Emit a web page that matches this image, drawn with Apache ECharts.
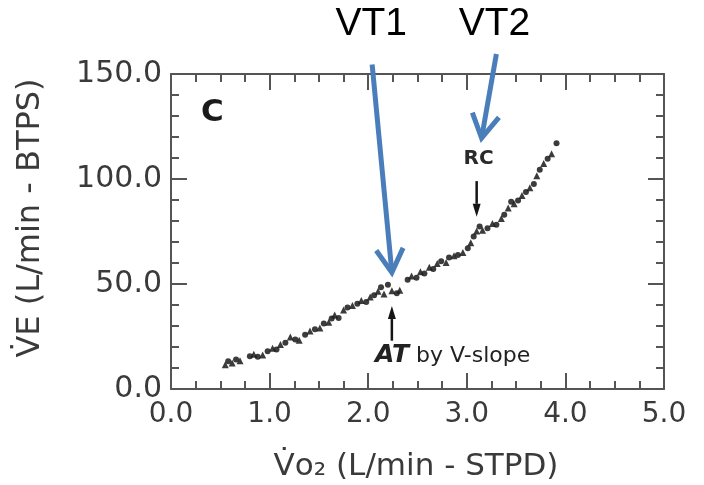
<!DOCTYPE html>
<html>
<head>
<meta charset="utf-8">
<script src="https://cdn.jsdelivr.net/npm/echarts@6/dist/echarts.min.js"></script>
<style>
html,body{margin:0;padding:0;background:#fff;}
#c{width:704px;height:485px;}
</style>
</head>
<body>
<div id="c"></div>
<script>
// ---- data ----
const vo2 = [0.55,0.58,0.62,0.66,0.70,0.80,0.84,0.88,0.93,0.98,1.03,1.07,1.11,1.16,1.21,1.26,1.30,1.36,1.41,1.46,
  1.51,1.55,1.60,1.63,1.66,1.70,1.75,1.79,1.84,1.89,1.93,1.98,2.02,2.06,2.10,2.13,2.16,2.20,2.24,2.29,
  2.32,2.40,2.44,2.49,2.53,2.57,2.62,2.66,2.70,2.74,2.79,2.82,2.87,2.91,2.96,3.01,3.04,3.07,3.10,3.13,
  3.16,3.21,3.26,3.30,3.35,3.38,3.42,3.45,3.48,3.52,3.56,3.60,3.64,3.68,3.71,3.74,3.78,3.82,3.86,3.91];
const ve = [11.6,13.2,12.4,14.0,13.4,15.6,16.6,15.4,16.2,18.0,19.4,18.8,21.2,22.0,24.8,23.6,23.2,25.8,27.6,28.4,
  29.0,31.2,31.8,33.6,35.2,33.8,37.6,38.8,39.8,40.6,42.2,41.4,43.8,44.6,46.6,48.4,45.2,49.6,46.8,45.6,
  47.0,52.0,53.8,53.0,55.8,55.0,58.0,57.2,59.8,60.8,60.2,62.6,63.4,63.8,65.0,67.0,69.6,72.6,75.2,77.4,
  75.6,76.6,78.8,78.2,81.2,83.0,86.2,89.2,88.2,89.8,92.2,93.8,95.8,97.6,101.6,104.4,107.4,109.6,112.0,117.0];
const xTicks = [0, 1, 2, 3, 4, 5];
const yTicks = [0, 50, 100, 150];
const xTitle = 'V\u0307o\u2082 (L/min - STPD)';
const yTitle = 'V\u0307E (L/min - BTPS)';
// annotation anchors in data units
const vt1 = {label:'VT1', text:[2.03,173.5], from:[2.04,154.5], to:[2.24,55.5]};
const vt2 = {label:'VT2', text:[3.28,173.5], from:[3.30,159.5], to:[3.15,119.5]};
const rc = {label:'RC', text:[3.12,109.5], from:[3.10,99], to:[3.10,82]};
const at = {text:[2.07,15.8], from:[2.24,23], to:[2.24,39.5]};
const panel = {label:'C', at:[0.42,131.5]};

const FONT = 'DejaVu Sans';
const AX = '#555';
const TXT = '#3a3a3a';

const tri = [], dot = [];
vo2.forEach((x, i) => (i % 2 === 0 ? tri : dot).push([x, ve[i]]));

function axisCommon(pos, showLabel, isX) {
  return {
    type: 'value', position: pos,
    min: isX ? xTicks[0] : yTicks[0],
    max: isX ? xTicks[xTicks.length - 1] : yTicks[yTicks.length - 1],
    interval: isX ? 1 : 50,
    axisLine: {show: true, onZero: false, lineStyle: {color: AX, width: 2}},
    axisTick: {show: true, inside: true, length: 16, lineStyle: {color: AX, width: 2}},
    minorTick: {show: true, splitNumber: isX ? 4 : 5, length: 8, lineStyle: {color: AX, width: 2}},
    splitLine: {show: false},
    axisLabel: {
      show: showLabel, formatter: v => v.toFixed(1), color: TXT,
      fontFamily: FONT, fontSize: isX ? 28 : 30, margin: isX ? 12 : 9,
      showMinLabel: true, showMaxLabel: true
    }
  };
}

const chart = echarts.init(document.getElementById('c'), null, {renderer: 'canvas'});
chart.setOption({
  animation: false,
  backgroundColor: '#fff',
  grid: {left: 171, right: 40, top: 74, bottom: 96, containLabel: false},
  xAxis: [axisCommon('bottom', true, true), axisCommon('top', false, true)],
  yAxis: [axisCommon('left', true, false), axisCommon('right', false, false)],
  series: [
    {type: 'scatter', data: tri, symbol: 'triangle', symbolSize: 7,
     itemStyle: {color: '#1a1a1a', opacity: 0.85}},
    {type: 'scatter', data: dot, symbol: 'circle', symbolSize: 6,
     itemStyle: {color: '#1a1a1a', opacity: 0.85}}
  ]
});

function P(p) { return chart.convertToPixel({gridIndex: 0}, p); }

function openArrow(a, color, width, len, ang) {
  const s = P(a.from), t = P(a.to);
  const dx = t[0] - s[0], dy = t[1] - s[1], L = Math.hypot(dx, dy);
  const ux = dx / L, uy = dy / L;
  const r = ang * Math.PI / 180;
  const w1 = [t[0] - len * (ux * Math.cos(r) - uy * Math.sin(r)), t[1] - len * (uy * Math.cos(r) + ux * Math.sin(r))];
  const w2 = [t[0] - len * (ux * Math.cos(-r) - uy * Math.sin(-r)), t[1] - len * (uy * Math.cos(-r) + ux * Math.sin(-r))];
  return [
    {type: 'line', shape: {x1: s[0], y1: s[1], x2: t[0] - ux * 2, y2: t[1] - uy * 2},
     style: {stroke: color, lineWidth: width}, z: 100},
    {type: 'polyline', shape: {points: [w1, t, w2]},
     style: {stroke: color, lineWidth: width, fill: null, lineJoin: 'miter'}, z: 100}
  ];
}

function solidArrow(a, color, width, len, half) {
  const s = P(a.from), t = P(a.to);
  const dx = t[0] - s[0], dy = t[1] - s[1], L = Math.hypot(dx, dy);
  const ux = dx / L, uy = dy / L;
  const bx = t[0] - ux * len, by = t[1] - uy * len;
  return [
    {type: 'line', shape: {x1: s[0], y1: s[1], x2: bx, y2: by},
     style: {stroke: color, lineWidth: width}, z: 90},
    {type: 'polygon', shape: {points: [t, [bx - uy * half, by + ux * half], [bx + uy * half, by - ux * half]]},
     style: {fill: color}, z: 90}
  ];
}

function label(p, text, size, opts) {
  const q = P(p);
  return Object.assign({type: 'text', x: q[0], y: q[1], z: 110,
    style: Object.assign({text: text, fontFamily: FONT, fontSize: size, fill: '#222',
      align: 'center', verticalAlign: 'middle'}, opts || {})});
}

const atPos = P(at.text);
const graphics = [].concat(
  openArrow(vt1, '#4a7ebb', 5, 27, 30),
  openArrow(vt2, '#4a7ebb', 5, 27, 30),
  solidArrow(rc, '#151515', 2.5, 13, 4),
  solidArrow(at, '#151515', 2.5, 13, 4),
  [
    label(vt1.text, vt1.label, 39, {fontFamily: 'Liberation Sans', fill: '#000'}),
    label(vt2.text, vt2.label, 39, {fontFamily: 'Liberation Sans', fill: '#000'}),
    label(rc.text, rc.label, 20, {fontWeight: 'bold', fill: '#2a2a2a'}),
    label(panel.at, panel.label, 31, {fontWeight: 'bold', fill: '#1a1a1a'}),
    {type: 'text', x: atPos[0], y: atPos[1], z: 110,
     style: {text: '{a|AT} by V-slope', fontFamily: FONT, fontSize: 22, fill: '#222',
       align: 'left', verticalAlign: 'middle',
       rich: {a: {fontFamily: FONT, fontSize: 25, fontStyle: 'italic', fontWeight: 'bold', fill: '#222'}}}},
    {type: 'text', x: 416, y: 467, z: 110,
     style: {text: xTitle, fontFamily: FONT, fontSize: 31, fill: TXT, align: 'center', verticalAlign: 'middle'}},
    {type: 'text', x: 31, y: 218, rotation: Math.PI / 2, z: 110,
     style: {text: yTitle, fontFamily: FONT, fontSize: 32, fill: TXT, align: 'center', verticalAlign: 'middle'}}
  ]
);
chart.setOption({graphic: graphics});
</script>
</body>
</html>
